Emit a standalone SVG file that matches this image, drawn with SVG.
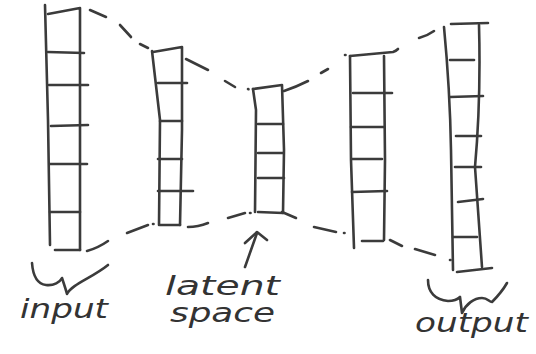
<svg xmlns="http://www.w3.org/2000/svg" width="536" height="354" viewBox="0 0 536 354">
<style>
.s{fill:none;stroke:#3b3b3b;stroke-width:2.6;stroke-linecap:round;stroke-linejoin:round}
.t{font-family:"DejaVu Sans","Liberation Sans",sans-serif;font-style:italic;fill:#333;font-size:26px}
</style>
<rect width="536" height="354" fill="#fff"/>
<g id="input-layer" class="s">
<path d="M45,5 L48,120 L50,245"/>
<path d="M48,14 L80,8 L80,250"/>
<path d="M55,250 L80,250"/>
<path d="M48,52 L84,53"/>
<path d="M49,85 L88,85"/>
<path d="M51,126 L88,125"/>
<path d="M50,164 L87,164"/>
<path d="M50,212 L80,212"/>
</g>
<g id="encoder-layer" class="s">
<path d="M152,51 L160,120 L159,225"/>
<path d="M153,52 L182,47 L182,130 L180,225"/>
<path d="M160,225 L180,225"/>
<path d="M158,83 L187,83"/>
<path d="M160,121 L182,121"/>
<path d="M158,159 L182,159"/>
<path d="M158,191 L193,191"/>
</g>
<g id="latent-layer" class="s">
<path d="M253,89 L256,110 L255,212"/>
<path d="M253,89 L282,85 L284,150 L283,213"/>
<path d="M258,212 L283,213"/>
<path d="M258,124 L283,124"/>
<path d="M258,153 L283,153"/>
<path d="M258,178 L284,178"/>
</g>
<g id="decoder-layer" class="s">
<path d="M350,56 L351,160 L354,248"/>
<path d="M350,56 L393,52 Q396,51 398,49"/>
<path d="M384,56 L385,160 L384,240"/>
<path d="M362,241 L383,241"/>
<path d="M353,93 L392,93"/>
<path d="M351,127 L384,127"/>
<path d="M352,159 L382,159"/>
<path d="M352,192 L387,191"/>
</g>
<g id="output-layer" class="s">
<path d="M444,27 Q450,90 451,150 L453,270"/>
<path d="M451,24 L488,23"/>
<path d="M479,25 Q481,100 475,167 L482,267"/>
<path d="M457,272 L492,268"/>
<path d="M450,60 L474,60"/>
<path d="M450,97 L483,96"/>
<path d="M456,136 L481,136"/>
<path d="M455,167 L481,167"/>
<path d="M458,202 L483,199"/>
<path d="M453,237 L477,237"/>
</g>
<g id="connectors" class="s">
<path d="M90,10 L106,17"/>
<path d="M120,25 L131,37"/>
<path d="M140,44 L148,48"/>
<path d="M186,59 L208,70"/>
<path d="M225,81 L235,87"/>
<path d="M248,89 L248.5,89.2"/>
<path d="M284,91 Q296,87 308,81"/>
<path d="M321,73 L328,69"/>
<path d="M345,55 L345.5,55"/>
<path d="M419,38 Q427,36 434,31"/>
<path d="M87,251 Q98,248 108,241"/>
<path d="M127,233 L148,225"/>
<path d="M153,224 L153.5,224"/>
<path d="M188,227 Q198,227 208,223"/>
<path d="M228,218 L245,213"/>
<path d="M250,213 L250.5,213"/>
<path d="M282,212 L296,218"/>
<path d="M314,227 L336,232"/>
<path d="M344,233 L344.5,233"/>
<path d="M390,240 L402,246"/>
<path d="M415,249 L435,255"/>
<path d="M450,260 L450.5,260"/>
<path d="M245,267 L257,233"/>
<path d="M245,243 L257,232 L267,240"/>
</g>
<g id="braces" class="s">
<path d="M32,263 C33,276 37,284 46,285 C54,286 60,282 62,278 C64,284 66,290 67,294 C72,284 92,278 108,265"/>
<path d="M428,280 C428,292 435,300 448,301 C454,301 458,299 460,297 L462,313 C466,304 474,298 482,298 C488,298 489,302 492,302 C498,296 503,290 507,283"/>
</g>
<g id="labels">
<text class="t" x="20" y="318" textLength="88" lengthAdjust="spacingAndGlyphs">input</text>
<text class="t" x="165" y="295" textLength="115" lengthAdjust="spacingAndGlyphs">latent</text>
<text class="t" x="170" y="322" textLength="105" lengthAdjust="spacingAndGlyphs">space</text>
<text class="t" x="415" y="332" textLength="113" lengthAdjust="spacingAndGlyphs">output</text>
</g>
</svg>
